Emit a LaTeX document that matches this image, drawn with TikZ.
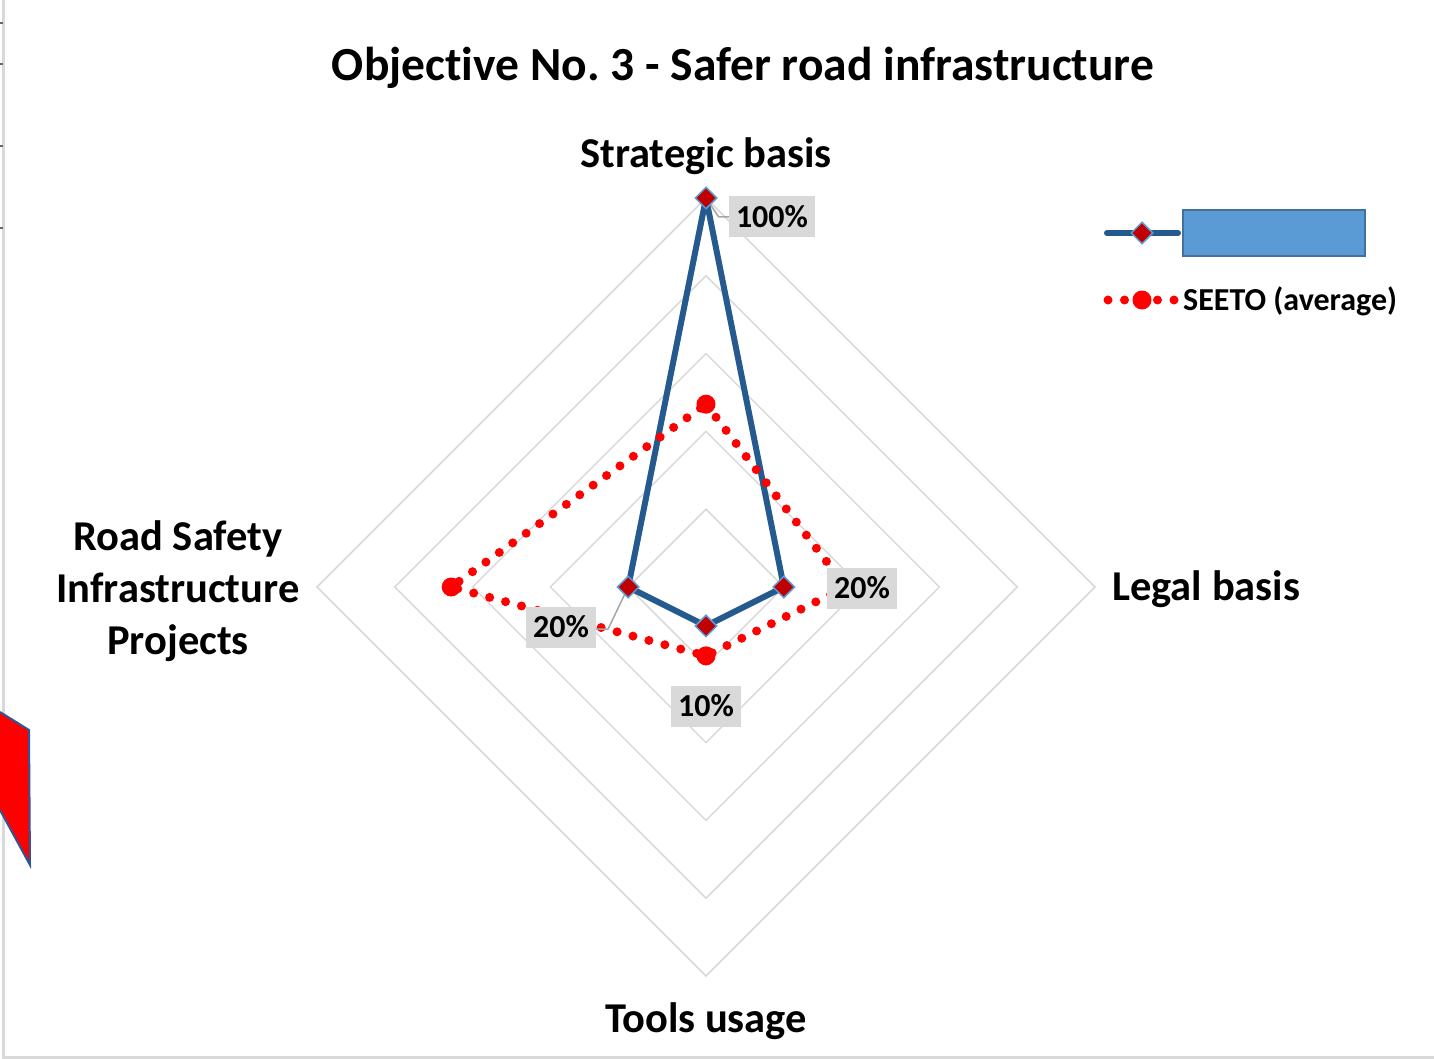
\documentclass[tikz,border=0pt]{standalone}
\usepackage{fontspec}
\setmainfont{Carlito}[Ligatures=NoCommon]
\frenchspacing
\usetikzlibrary{arrows,shapes}
\definecolor{gridgray}{HTML}{D9D9D9}
\definecolor{seriesblue}{HTML}{245A8D}
\definecolor{markred}{HTML}{C00000}
\definecolor{markedge}{HTML}{5B9BD5}
\definecolor{legendfill}{HTML}{5B9BD5}
\definecolor{legendedge}{HTML}{41719C}
\definecolor{shapeedge}{HTML}{2F5597}
\definecolor{leadergray}{HTML}{A6A6A6}
\tikzstyle{ring}=[draw=gridgray,line width=1.5pt]
\tikzstyle{axislabel}=[font=\fontsize{42.5}{52}\selectfont\bfseries,align=center,inner sep=0pt]
\tikzstyle{datalabel}=[fill=gridgray,font=\fontsize{32}{38}\selectfont\bfseries,inner xsep=7pt,inner ysep=0pt,minimum height=41pt]
\tikzstyle{bluemark}=[diamond,fill=markred,draw=markedge,line width=1.5pt,minimum size=22pt,inner sep=0pt]
\tikzstyle{redmark}=[circle,fill=red,minimum size=19pt,inner sep=0pt]
\tikzstyle{blueline}=[draw=seriesblue,line width=6pt,line join=round,line cap=round]
\tikzstyle{redline}=[draw=red,line width=9pt,line cap=round,dash pattern=on 0pt off 16.5pt]
\tikzstyle{leader}=[draw=leadergray,line width=1.5pt]

\begin{document}
\begin{tikzpicture}[x=1pt,y=-1pt]
    \useasboundingbox (0,0) rectangle (1434,1059);
    % Frame and the piece of shape cut at the left
    \draw[gridgray,line width=3pt] (3,0) -- (3,1057) -- (1434,1057);
    \foreach \y in {23,64,146,228}
        \draw[black!60,line width=2pt] (0,\y) -- (3,\y);
    \draw[fill=red,draw=shapeedge,line width=2pt] (0,712) -- (29,730) -- (30,865) -- (0,810);
    % Title
    \node[font=\fontsize{47.5}{56}\selectfont\bfseries] (title) at (743,68) {Objective No. 3 - Safer road infrastructure};
    % Radar grid and the two series
    \begin{scope}[shift={(706pt,-587pt)},x=389pt,y=389pt]
        \foreach \r in {0.2,0.4,0.6,0.8,1.0}
            \draw[ring] (90:\r) -- (0:\r) -- (270:\r) -- (180:\r) -- cycle;
        \foreach \ang/\val/\name in {90/1.0/bs, 0/0.2/bl, 270/0.1/bt, 180/0.2/br}
            \coordinate (\name) at (\ang:\val);
        \foreach \ang/\val/\name in {90/0.47/rs, 0/0.36/rl, 270/0.177/rt, 180/0.655/rr}
            \coordinate (\name) at (\ang:\val);
    \end{scope}
    \path[blueline] (bs) -- (bl) -- (bt) -- (br) -- cycle;
    \path[redline] (rs) -- (rl) -- (rt) -- (rr) -- cycle;
    \foreach \name in {rs,rl,rt,rr}
        \node[redmark] (m\name) at (\name) {};
    % Data labels with their leader lines
    \node[datalabel] (lab100) at (772,217) {100\%};
    \node[datalabel] (labl) at (862,588) {20\%};
    \node[datalabel] (labr) at (561,627) {20\%};
    \node[datalabel] (labt) at (706,706) {10\%};
    \path[leader] (bs) -- ([xshift=-10pt]lab100.west) -- (lab100.west);
    \path[leader] (br) -- ([xshift=12pt,yshift=-2pt]labr.east) -- ([yshift=-2pt]labr.east);
    \foreach \name in {bs,bl,bt,br}
        \node[bluemark] (m\name) at (\name) {};
    % Axis names
    \node[axislabel] (strat) at (706,156) {Strategic basis};
    \node[axislabel,anchor=west] (legal) at (1112,589) {Legal basis};
    \node[axislabel] (tools) at (706,1021) {Tools usage};
    \node[axislabel] (road) at (178,591) {Road Safety\\Infrastructure\\Projects};
    % Legend
    \coordinate (lgbA) at (1107,233);
    \coordinate (lgbB) at (1178,233);
    \coordinate (lgrA) at (1108,300);
    \coordinate (lgrB) at (1178,300);
    \path[blueline] (lgbA) -- (lgbB);
    \node[bluemark] (lgbm) at (1142,233) {};
    \node[draw=legendedge,fill=legendfill,line width=1.5pt,minimum width=182pt,minimum height=46pt] (lgbox) at (1274,233) {};
    \path[redline] (lgrA) -- (lgrB);
    \node[redmark] (lgrm) at (1142,300) {};
    \node[anchor=west,inner sep=0pt,font=\fontsize{32}{38}\selectfont\bfseries] (lgtext) at (1183,301) {SEETO (average)};
\end{tikzpicture}
\end{document}
